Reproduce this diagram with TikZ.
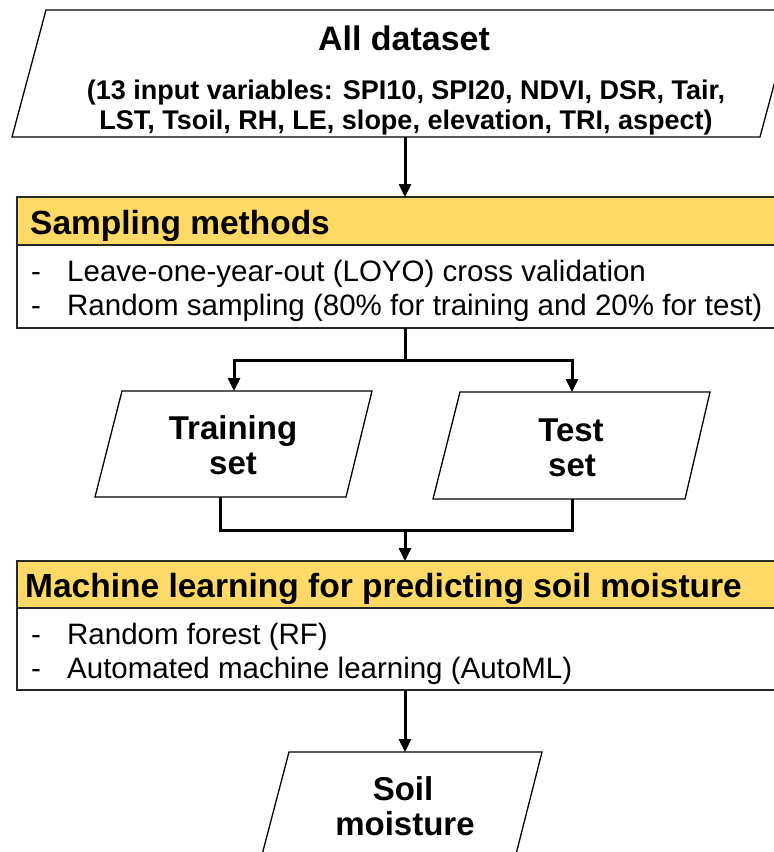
\documentclass[tikz,border=0pt]{standalone}
\usepackage{fontspec}
\setmainfont{Liberation Sans}
\usetikzlibrary{arrows.meta}
\definecolor{hdryellow}{RGB}{255,217,102}
\definecolor{boxgray}{RGB}{40,40,40}
\begin{document}
\begin{tikzpicture}[x=1pt,y=-1pt,
  shapeline/.style={draw=black, line width=1.3pt, fill=white},
  hdr/.style={draw=boxgray, line width=1.8pt, fill=hdryellow},
  bodybox/.style={draw=boxgray, line width=1.8pt, fill=white},
  conn/.style={draw=black, line width=3pt},
  arr/.style={conn, -{Triangle[width=12pt,length=13pt]}},
  titletext/.style={font=\bfseries\fontsize{34}{40}\selectfont, anchor=base, inner sep=0pt},
  vartext/.style={font=\bfseries\fontsize{27}{30}\selectfont, anchor=base, inner sep=0pt},
  hdrtext/.style={font=\bfseries\fontsize{33.5}{40}\selectfont, anchor=base west, inner sep=0pt},
  bodytext/.style={font=\fontsize{29.5}{34}\selectfont, anchor=base west, inner sep=0pt},
  settext/.style={font=\bfseries\fontsize{33}{40}\selectfont, anchor=base, inner sep=0pt}
]
\useasboundingbox (0,0) rectangle (774,852);
\fill[white] (0,0) rectangle (774,852);
\clip (0,0) rectangle (774,852);

% ---- All dataset ----
\draw[shapeline] (46,10) -- (794,10) -- (760,137) -- (12,137) -- cycle;
\node[titletext] (all1) at (404,50) {All dataset};
\node[vartext] (all2) at (406,99) {(13 input variables: SPI10, SPI20, NDVI, DSR, Tair,};
\node[vartext] (all3) at (406,129) {LST, Tsoil, RH, LE, slope, elevation, TRI, aspect)};
\coordinate (allB) at (405,137);

% ---- Sampling methods ----
\draw[hdr] (17,197) rectangle (790,245);
\draw[bodybox] (17,245) rectangle (790,328);
\node[hdrtext] (samph) at (30,234) {Sampling methods};
\node[bodytext] (samd1) at (31,281) {-};
\node[bodytext] (samt1) at (67,281) {Leave-one-year-out (LOYO) cross validation};
\node[bodytext] (samd2) at (31,315) {-};
\node[bodytext] (samt2) at (67,315) {Random sampling (80\% for training and 20\% for test)};
\coordinate (sampT) at (405,197);
\coordinate (sampB) at (405,328);

% ---- Training / Test ----
\draw[shapeline] (122,391) -- (372,391) -- (346,497) -- (95,497) -- cycle;
\node[settext] (train1) at (233,439) {Training};
\node[settext] (train2) at (233,474) {set};
\draw[shapeline] (460,392) -- (710,392) -- (685,499) -- (433,499) -- cycle;
\node[settext] (test1) at (571,441) {Test};
\node[settext] (test2) at (572,476) {set};
\coordinate (split) at (405,360);
\coordinate (trainT) at (234,391);
\coordinate (testT) at (572,392);
\coordinate (trainB) at (220,497);
\coordinate (testB) at (572,499);
\coordinate (merge) at (405,530);

% ---- Machine learning ----
\draw[hdr] (17,561) rectangle (790,608);
\draw[bodybox] (17,608) rectangle (790,690);
\node[hdrtext] (mlh) at (25,597) {Machine learning for predicting soil moisture};
\node[bodytext] (mld1) at (31,644) {-};
\node[bodytext] (mlt1) at (67,644) {Random forest (RF)};
\node[bodytext] (mld2) at (31,678) {-};
\node[bodytext] (mlt2) at (67,678) {Automated machine learning (AutoML)};
\coordinate (mlT) at (405,561);
\coordinate (mlB) at (405,690);

% ---- Soil moisture ----
\draw[shapeline] (289,752) -- (542,752) -- (512,870) -- (258,870) -- cycle;
\node[settext] (soil1) at (403,800) {Soil};
\node[settext] (soil2) at (405,835) {moisture};
\coordinate (soilT) at (405,752);

% ---- connectors ----
\draw[arr] (allB) -- (sampT);
\draw[conn] (sampB) -- (split);
\draw[arr] (split) -| (trainT);
\draw[arr] (split) -| (testT);
\draw[conn] (trainB) |- (merge);
\draw[conn] (testB) |- (merge);
\draw[arr] (merge) -- (mlT);
\draw[arr] (mlB) -- (soilT);
\end{tikzpicture}
\end{document}
